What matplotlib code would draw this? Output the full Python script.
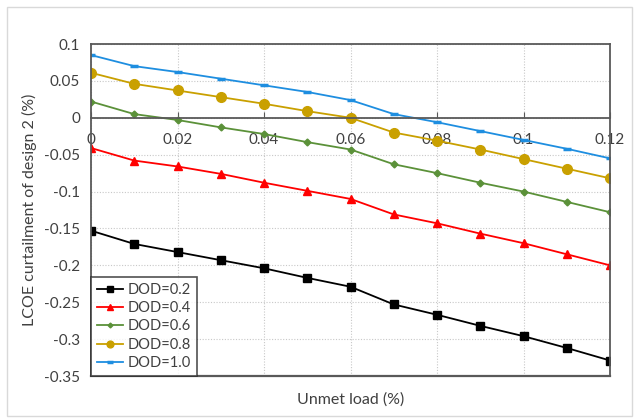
import numpy as np
import matplotlib.pyplot as plt
from matplotlib.patches import Rectangle

unmet = [0, 0.01, 0.02, 0.03, 0.04, 0.05, 0.06, 0.07, 0.08, 0.09, 0.10, 0.11, 0.12]
dod_02 = [-0.153, -0.171, -0.182, -0.193, -0.204, -0.217, -0.229, -0.253, -0.267, -0.282, -0.296, -0.312, -0.329]
dod_04 = [-0.041, -0.058, -0.066, -0.076, -0.088, -0.099, -0.110, -0.131, -0.143, -0.157, -0.170, -0.185, -0.200]
dod_06 = [0.022, 0.005, -0.003, -0.013, -0.022, -0.033, -0.043, -0.063, -0.075, -0.088, -0.100, -0.114, -0.128]
dod_08 = [0.061, 0.046, 0.037, 0.028, 0.019, 0.009, 0.0, -0.020, -0.031, -0.043, -0.056, -0.069, -0.082]
dod_10 = [0.085, 0.070, 0.062, 0.053, 0.044, 0.035, 0.024, 0.005, -0.006, -0.018, -0.030, -0.042, -0.055]
names = ["DOD=0.2", "DOD=0.4", "DOD=0.6", "DOD=0.8", "DOD=1.0"]

plt.rcParams['font.family'] = ['Lato', 'DejaVu Sans']
txt = '#404040'

fig = plt.figure(figsize=(6.34, 4.18), dpi=100)
ax = fig.add_axes([91/634, 1-376/418, (610-91)/634, (376-44)/418])

# outer chart border
fig.patches.append(Rectangle((7/634, 2/418), 625/634, 409/418, transform=fig.transFigure,
                             fill=False, edgecolor='#d9d9d9', lw=1))

styles = [
    dict(color='black', marker='s', ms=6),
    dict(color='#ff0000', marker='^', ms=6),
    dict(color='#5b9139', marker='D', ms=3.5),
    dict(color='#c9a000', marker='o', ms=7),
    dict(color='#1e8ee0', marker='_', ms=6, mew=2.5),
]
for ys, name, st in zip([dod_02, dod_04, dod_06, dod_08, dod_10], names, styles):
    ax.plot(unmet, ys, lw=1.3, label=name, **st)

ax.set_xlim(0, 0.12)
ax.set_ylim(-0.35, 0.1)
ax.set_xticks(np.arange(0, 0.121, 0.02))
ax.set_xticklabels(['0', '0.02', '0.04', '0.06', '0.08', '0.1', '0.12'])
ax.set_yticks(np.arange(-0.35, 0.101, 0.05))
ax.set_yticklabels(['-0.35', '-0.3', '-0.25', '-0.2', '-0.15', '-0.1', '-0.05', '0', '0.05', '0.1'])
ax.grid(True, color='#c8c8c8', linestyle=(0, (1, 1.5)), lw=0.8)

for s in ax.spines.values():
    s.set_color('#595959')
    s.set_linewidth(1.3)
ax.spines['bottom'].set_position(('data', 0))
ax.axhline(-0.35, color='#595959', lw=1.6, clip_on=False)

ax.tick_params(axis='x', direction='in', length=4, color='#595959', labelsize=11, labelcolor=txt, pad=11)
ax.tick_params(axis='y', length=0, labelsize=11, labelcolor=txt, pad=8)

ax.set_xlabel('Unmet load (%)', fontsize=11.5, color=txt)
ax.xaxis.set_label_coords(0.5, -0.05)
ax.set_ylabel('LCOE curtailment of design 2 (%)', fontsize=11.5, color=txt, labelpad=5)

leg = ax.legend(loc='lower left', fontsize=10.5, frameon=True, fancybox=False,
                borderaxespad=0, handlelength=1.8, handletextpad=0.3, labelspacing=0.3,
                borderpad=0.4, markerscale=0.7)
leg.get_frame().set_edgecolor('#262626')
leg.get_frame().set_linewidth(1.2)
for t in leg.get_texts():
    t.set_color(txt)

fig.savefig('out.png', dpi=100)
